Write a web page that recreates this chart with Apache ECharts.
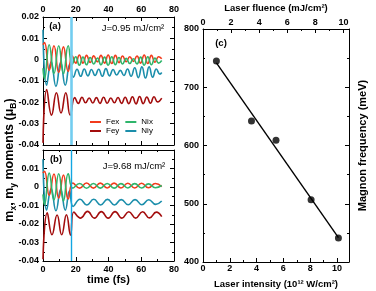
<!DOCTYPE html>
<html><head><meta charset="utf-8">
<script src="https://cdn.jsdelivr.net/npm/echarts@6/dist/echarts.min.js"></script>
<style>html,body{margin:0;padding:0;background:#fff}#c{width:376px;height:291px}</style>
</head><body><div id="c"></div>
<script>
// ---- data (time in fs, moments in muB) ----
const PULSE_T = 17;
const fexA = [[0,0.007],[0.9,0.008],[3.8,-0.005],[6.7,0.0065],[9.6,-0.006],[12.5,0.006],[15.4,-0.0055],
[17.8,0.0018],[20,-0.0016],[22.2,0.0022],[24.4,-0.0016],[26.6,0.002],[28.8,-0.0013],[31,0.0018],[33.2,-0.001],[35.4,0.002],[37.6,-0.0016],[39.8,0.0022],[42,-0.0018],[44.2,0.002],[46.4,-0.0014],[48.6,0.0017],[50.8,-0.001],[53,0.0014],[55.2,-0.0008],[57.4,0.0017],[59.6,-0.0016],[61.8,0.0022],[64,-0.0018],[66.2,0.002],[68.4,-0.0012],[70.6,0.0014],[72.5,0.0004]];
const nixA = [[0,-0.004],[0.9,-0.009],[3.8,0.007],[6.7,-0.0065],[9.6,0.0065],[12.5,-0.0065],[15.4,0.0065],
[17.8,-0.0022],[20,0.0014],[22.2,-0.0026],[24.4,0.0012],[26.6,-0.0024],[28.8,0.001],[31,-0.002],[33.2,0.0008],[35.4,-0.0024],[37.6,0.0012],[39.8,-0.0026],[42,0.0014],[44.2,-0.0024],[46.4,0.001],[48.6,-0.002],[50.8,0.0006],[53,-0.0018],[55.2,0.0004],[57.4,-0.002],[59.6,0.0012],[61.8,-0.0026],[64,0.0014],[66.2,-0.0024],[68.4,0.0008],[70.6,-0.0016],[72.5,-0.0004]];
const niyA = [[0,0.014],[2.2,-0.012],[5,-0.001],[7.9,-0.0125],[10.8,-0.0012],[13.6,-0.012],[16.4,-0.002],
[18.6,-0.0082],[20.8,-0.0045],[23,-0.0078],[25.2,-0.0044],[27.4,-0.0076],[29.6,-0.0046],[31.8,-0.0074],[34,-0.0045],[36.2,-0.0078],[38.4,-0.0042],[40.6,-0.0076],[42.8,-0.0046],[45,-0.0072],[47.2,-0.005],[49.4,-0.0074],[51.6,-0.0044],[53.8,-0.0078],[56,-0.0038],[58.2,-0.0084],[60.4,-0.0034],[62.6,-0.0086],[64.8,-0.0034],[67,-0.0082],[69.2,-0.0044],[71.4,-0.0068],[72.5,-0.006]];
const feyA = [[0,-0.039],[2.3,-0.014],[5.2,-0.026],[8.2,-0.0155],[11,-0.025],[13.9,-0.0155],[16.6,-0.026],
[19.4,-0.0178],[21.6,-0.0205],[23.8,-0.0176],[26,-0.0202],[28.2,-0.018],[30.4,-0.0203],[32.6,-0.0178],[34.8,-0.0205],[37,-0.0176],[39.2,-0.0204],[41.4,-0.018],[43.6,-0.0202],[45.8,-0.0177],[48,-0.0205],[50.2,-0.0176],[52.4,-0.0206],[54.6,-0.0174],[56.8,-0.0207],[59,-0.0173],[61.2,-0.0206],[63.4,-0.0175],[65.6,-0.0204],[67.8,-0.0174],[70,-0.0198],[72.5,-0.018]];

const fexB = [[0,0.0075],[0.9,0.0085],[3.8,-0.0045],[6.7,0.007],[9.6,-0.006],[12.5,0.0065],[15.4,-0.0065],
[18.2,0.0022],[22.4,-0.0006],[26.6,0.0022],[30.8,-0.0006],[35,0.0021],[39.2,-0.0005],[43.4,0.0021],[47.6,-0.0005],[51.8,0.002],[56,-0.0005],[60.2,0.002],[64.4,-0.0004],[68.6,0.0019],[72.5,0.0002]];
const nixB = [[0,-0.004],[0.9,-0.0095],[3.8,0.0075],[6.7,-0.007],[9.6,0.0072],[12.5,-0.0075],[15.4,0.0072],
[18.2,-0.0006],[22.4,0.0019],[26.6,-0.0007],[30.8,0.0019],[35,-0.0006],[39.2,0.0019],[43.4,-0.0006],[47.6,0.0018],[51.8,-0.0005],[56,0.0018],[60.2,-0.0005],[64.4,0.0017],[68.6,-0.0004],[72.5,0.0008]];
const niyB = [[0,0.015],[2.2,-0.0125],[5,-0.001],[7.9,-0.0128],[10.8,-0.0012],[13.6,-0.0125],[16.2,-0.002],
[18.4,-0.0105],[22.6,-0.0066],[26.8,-0.0097],[31,-0.0066],[35.2,-0.0097],[39.4,-0.0067],[43.6,-0.0097],[47.8,-0.0068],[52,-0.0096],[56.2,-0.0068],[60.4,-0.0096],[64.6,-0.0069],[68.8,-0.0094],[72.5,-0.0076]];
const feyB = [[0,-0.039],[2.6,-0.014],[5.5,-0.0258],[8.6,-0.0151],[11.4,-0.0258],[14.3,-0.015],[16.8,-0.026],
[18.8,-0.0135],[23,-0.0168],[27.2,-0.0132],[31.4,-0.0168],[35.6,-0.0133],[39.8,-0.0168],[44,-0.0133],[48.2,-0.0168],[52.4,-0.0134],[56.6,-0.0168],[60.8,-0.0134],[65,-0.0167],[69.2,-0.0136],[72.5,-0.016]];

// panel (c)
const intensity = [1.0, 3.62, 5.45, 8.07, 10.11];
const magnon = [745, 642, 609, 507, 441];
const fitX = [1.0, 10.11];
const fitY = [742, 442];

// ---- styling ----
const FONT = 'Liberation Sans, Arial, sans-serif';
const COL = {Fex:'#f23b1c', Fey:'#a30d0d', Nix:'#2fb56b', Niy:'#1b8eab'};

function axisBase(extra){
  return Object.assign({
    axisLine:{onZero:false, lineStyle:{color:'#000', width:1}},
    axisTick:{show:true, inside:true, length:4, lineStyle:{color:'#000', width:1}},
    minorTick:{show:true, splitNumber:2, length:2, lineStyle:{color:'#000', width:1}},
    splitLine:{show:false},
    axisLabel:{color:'#000', fontWeight:'bold', fontSize:9, fontFamily:FONT, margin:3}
  }, extra);
}
function noLabel(a){ a.axisLabel = Object.assign({}, a.axisLabel, {show:false}); return a; }
function momFmt(hideTop){
  return function(v){
    const r = Math.round(v*100)/100;
    if (hideTop && r >= 0.02) return '';
    return r === 0 ? '0' : r.toFixed(2);
  };
}
function evenFmt(v){ return (Math.abs(v - Math.round(v)) < 1e-6 && Math.round(v) % 2 === 0) ? String(Math.round(v)) : ''; }

const xAxes = [
  noLabel(axisBase({type:'value', gridIndex:0, position:'bottom', min:0, max:80, interval:20})),
  axisBase({type:'value', gridIndex:0, position:'top', min:0, max:80, interval:20}),
  axisBase({type:'value', gridIndex:1, position:'bottom', min:0, max:80, interval:20}),
  noLabel(axisBase({type:'value', gridIndex:1, position:'top', min:0, max:80, interval:20})),
  axisBase({type:'value', gridIndex:2, position:'bottom', min:0, max:10.9, interval:2}),
  axisBase({type:'value', gridIndex:2, position:'top', min:0, max:10.4, interval:2})
];
xAxes[1].axisLabel.margin = 3;
xAxes[2].axisLabel.margin = 4;
xAxes[4].axisLabel.margin = 2; xAxes[4].axisLabel.formatter = evenFmt;
xAxes[5].axisLabel.margin = 2; xAxes[5].axisLabel.formatter = evenFmt;

const yAxes = [
  axisBase({type:'value', gridIndex:0, position:'left', min:-0.04, max:0.02, interval:0.01}),
  noLabel(axisBase({type:'value', gridIndex:0, position:'right', min:-0.04, max:0.02, interval:0.01})),
  axisBase({type:'value', gridIndex:1, position:'left', min:-0.04, max:0.02, interval:0.01}),
  noLabel(axisBase({type:'value', gridIndex:1, position:'right', min:-0.04, max:0.02, interval:0.01})),
  axisBase({type:'value', gridIndex:2, position:'left', min:400, max:800, interval:100}),
  noLabel(axisBase({type:'value', gridIndex:2, position:'right', min:400, max:800, interval:100}))
];
yAxes[0].axisLabel.formatter = momFmt(false); yAxes[0].axisLabel.margin = 4;
yAxes[2].axisLabel.formatter = momFmt(true); yAxes[2].axisLabel.margin = 4;
yAxes[4].axisLabel.margin = 4;

function lineSeries(name, data, gi, extra){
  return Object.assign({
    name, type:'line', data, xAxisIndex: gi*2, yAxisIndex: gi*2,
    smooth:0.5, symbol:'none', showSymbol:false,
    lineStyle:{color:COL[name], width:1.6}, itemStyle:{color:COL[name]},
    animation:false
  }, extra||{});
}
function pulse(color, width){
  return {silent:true, symbol:['none','none'], label:{show:false},
    lineStyle:{color, width, type:'solid'}, data:[{xAxis:PULSE_T}], animation:false};
}

const series = [
  lineSeries('Fey', feyA, 0), lineSeries('Niy', niyA, 0),
  lineSeries('Fex', fexA, 0), lineSeries('Nix', nixA, 0, {markLine: pulse('#72cdf0', 2.6)}),
  lineSeries('Fey', feyB, 1), lineSeries('Niy', niyB, 1),
  lineSeries('Fex', fexB, 1), lineSeries('Nix', nixB, 1, {markLine: pulse('#12a6e2', 1.4)}),
  {type:'line', data: fitX.map((x,i)=>[x, fitY[i]]), xAxisIndex:4, yAxisIndex:4, symbol:'none',
   lineStyle:{color:'#000', width:1.4}, animation:false},
  {type:'scatter', data: intensity.map((x,i)=>[x, magnon[i]]), xAxisIndex:4, yAxisIndex:4,
   symbolSize:7, itemStyle:{color:'#000'}, animation:false}
];

const legendBase = {left:90, itemWidth:11, itemHeight:2, icon:'rect', itemGap:6, padding:0,
  textStyle:{fontSize:8, fontFamily:FONT, color:'#000'}, selectedMode:false};

function txt(x, y, text, opts){
  return {type:'text', x, y, rotation: (opts && opts.rot) || 0,
    style: Object.assign({text, fill:'#000', align:'center', verticalAlign:'middle',
      font: (opts && opts.font) || ('9px ' + FONT)}, (opts && opts.style) || {})};
}

const chart = echarts.init(document.getElementById('c'), null, {renderer:'canvas'});
chart.setOption({
  animation:false,
  backgroundColor:'#fff',
  grid:[
    {left:43, top:17, width:131, height:128},
    {left:43, top:150, width:131, height:111},
    {left:203, top:29, width:146, height:233}
  ],
  xAxis: xAxes, yAxis: yAxes, series,
  legend:[
    Object.assign({}, legendBase, {top:118, data:['Fex','Nix']}),
    Object.assign({}, legendBase, {top:127, data:['Fey','Niy']})
  ],
  graphic:[
    txt(55, 26, '(a)', {font:'bold 9.5px ' + FONT}),
    txt(133, 28, 'J=0.95 mJ/cm²', {font:'9.5px ' + FONT}),
    txt(56, 159, '(b)', {font:'bold 9.5px ' + FONT}),
    txt(134, 166, 'J=9.68 mJ/cm²', {font:'9.5px ' + FONT}),
    txt(221, 43, '(c)', {font:'bold 9.5px ' + FONT}),
    txt(108.5, 280, 'time (fs)', {font:'bold 11px ' + FONT}),
    txt(276, 8, 'Laser fluence (mJ/cm²)', {font:'bold 9.5px ' + FONT}),
    txt(276, 284, 'Laser intensity (10¹² W/cm²)', {font:'bold 9.5px ' + FONT}),
    txt(363, 145.5, 'Magnon frequency (meV)', {font:'bold 11px ' + FONT, rot:Math.PI/2}),
    {type:'text', x:10, y:160, rotation:Math.PI/2,
     style:{text:'{m|m}{s|x}{m|, m}{s|y}{m| moments (μ}{s|B}{m|)}', align:'center', verticalAlign:'middle',
       rich:{
         m:{font:'bold 12.5px ' + FONT, fill:'#000', lineHeight:16, verticalAlign:'middle'},
         s:{font:'bold 8.5px ' + FONT, fill:'#000', lineHeight:8, verticalAlign:'bottom'}
       }}}
  ]
});
</script></body></html>
